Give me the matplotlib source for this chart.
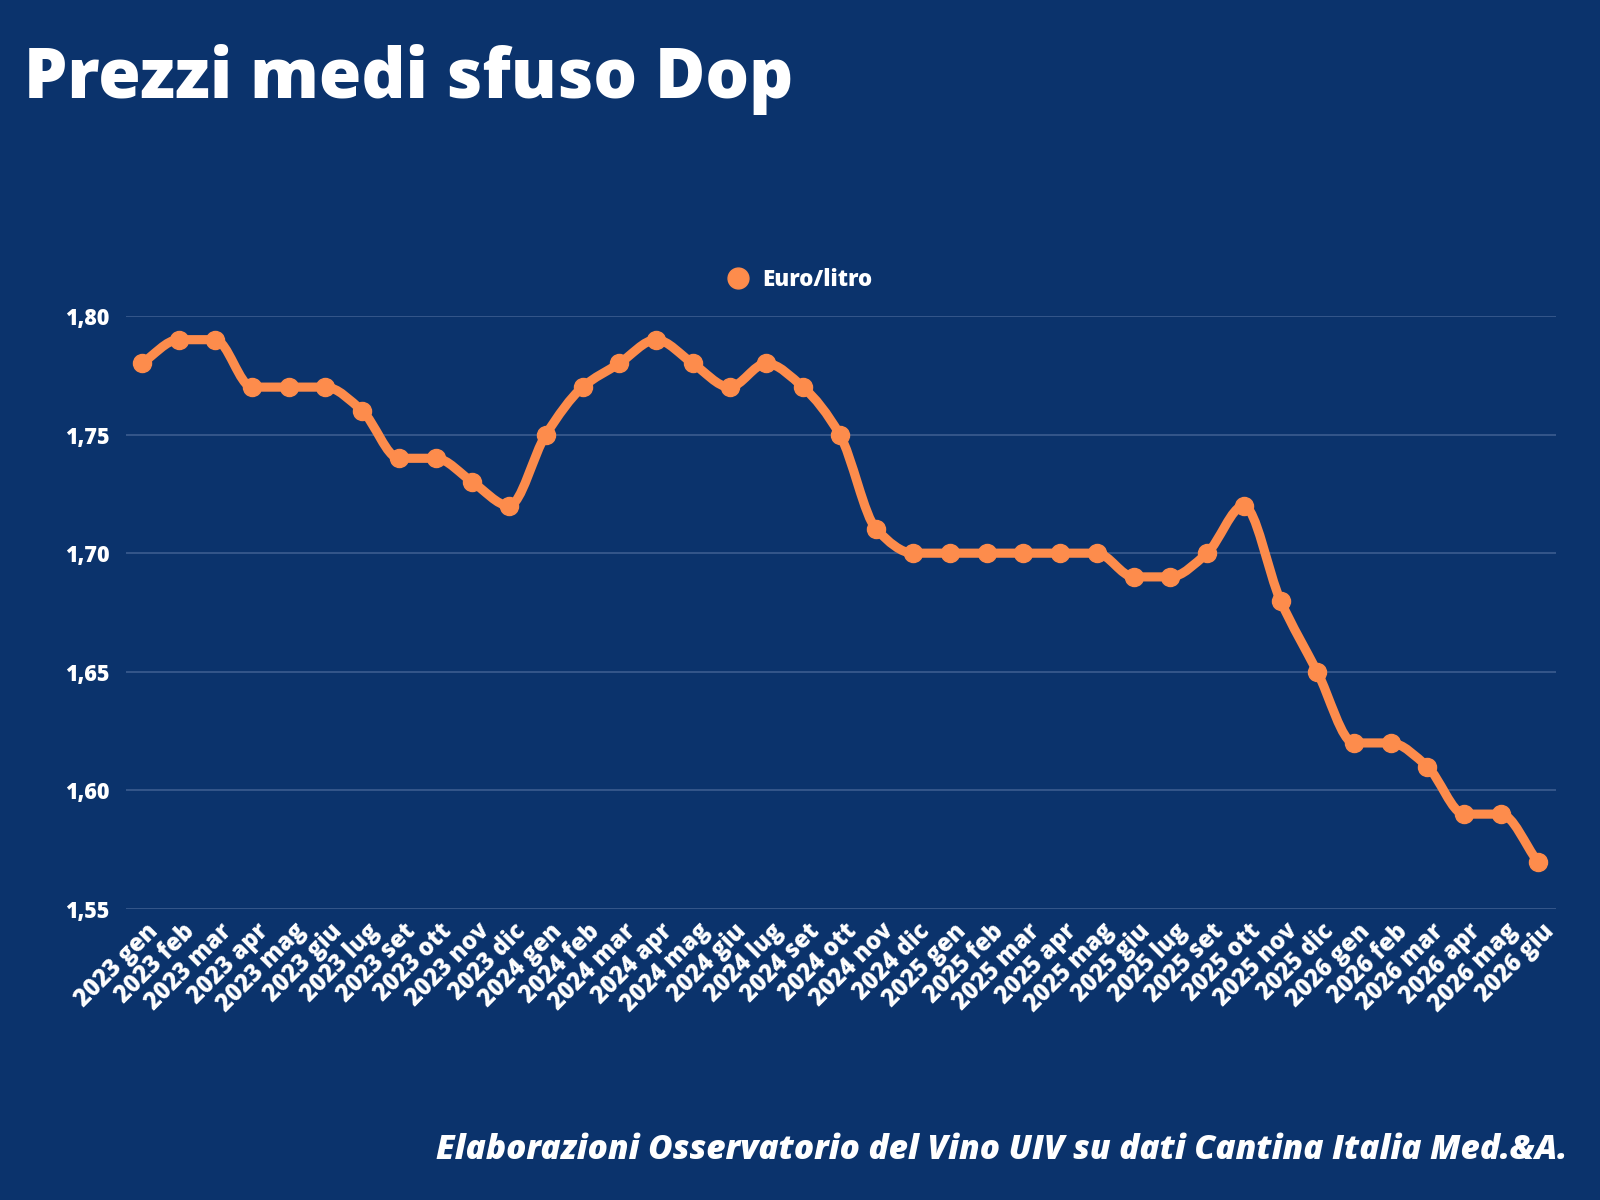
import numpy as np
import matplotlib
matplotlib.use("Agg")
import matplotlib.pyplot as plt
import matplotlib.transforms as mtransforms
from matplotlib.path import Path
from matplotlib.patches import PathPatch
from matplotlib.lines import Line2D

# data
months = ["2023 gen", "2023 feb", "2023 mar", "2023 apr", "2023 mag", "2023 giu",
          "2023 lug", "2023 set", "2023 ott", "2023 nov", "2023 dic",
          "2024 gen", "2024 feb", "2024 mar", "2024 apr", "2024 mag", "2024 giu",
          "2024 lug", "2024 set", "2024 ott", "2024 nov", "2024 dic",
          "2025 gen", "2025 feb", "2025 mar", "2025 apr", "2025 mag", "2025 giu",
          "2025 lug", "2025 set", "2025 ott", "2025 nov", "2025 dic",
          "2026 gen", "2026 feb", "2026 mar", "2026 apr", "2026 mag", "2026 giu"]
prices = [1.78, 1.79, 1.79, 1.77, 1.77, 1.77, 1.76, 1.74, 1.74, 1.73, 1.72,
          1.75, 1.77, 1.78, 1.79, 1.78, 1.77, 1.78, 1.77, 1.75, 1.71, 1.70,
          1.70, 1.70, 1.70, 1.70, 1.70, 1.69, 1.69, 1.70, 1.72, 1.68, 1.65,
          1.62, 1.62, 1.61, 1.59, 1.59, 1.57]
yticks = [1.55, 1.60, 1.65, 1.70, 1.75, 1.80]
ytick_labels = ["1,55", "1,60", "1,65", "1,70", "1,75", "1,80"]
series_name = "Euro/litro"
title = "Prezzi medi sfuso Dop"
source = "Elaborazioni Osservatorio del Vino UIV su dati Cantina Italia Med.&A."

bg = "#0b336c"
orange = "#fd8c4c"
grid_col = "#3c5d90"
font = ["Open Sans", "DejaVu Sans"]
plt.rcParams["font.family"] = font


def smooth_path(x, y):
    # monotone cubic tangents, drawn as bezier segments
    x = np.asarray(x, float)
    y = np.asarray(y, float)
    d = np.diff(y) / np.diff(x)
    m = np.zeros_like(y)
    m[0], m[-1] = d[0], d[-1]
    for k in range(1, len(y) - 1):
        if d[k - 1] * d[k] > 0:
            m[k] = 2 / (1 / d[k - 1] + 1 / d[k])
    verts = [(x[0], y[0])]
    codes = [Path.MOVETO]
    for k in range(len(x) - 1):
        h = x[k + 1] - x[k]
        verts += [(x[k] + h / 3, y[k] + m[k] * h / 3),
                  (x[k + 1] - h / 3, y[k + 1] - m[k + 1] * h / 3),
                  (x[k + 1], y[k + 1])]
        codes += [Path.CURVE4] * 3
    return Path(verts, codes)


fig = plt.figure(figsize=(16, 12), dpi=100, facecolor=bg)
ax = fig.add_axes([0.0790, 0.2425, 0.8935, 0.4942])
ax.set_facecolor(bg)

xs = np.arange(len(months))
ax.add_patch(PathPatch(smooth_path(xs, prices), fill=False, edgecolor=orange,
                       lw=6.6, capstyle="round", joinstyle="round", zorder=3))
ax.plot(xs, prices, "o", color=orange, markersize=13, zorder=4)

ax.set_xlim(-0.42, len(months) - 0.5)
ax.set_ylim(1.55, 1.80)
ax.set_yticks(yticks)
ax.set_yticklabels(ytick_labels)
ax.set_xticks(xs)
ax.set_xticklabels(months, rotation=45, ha="right", rotation_mode="anchor")
ax.tick_params(axis="both", length=0, colors="white", labelsize=15.5)
ax.tick_params(axis="x", labelsize=17, pad=7)
ax.tick_params(axis="y", pad=12)
shift = mtransforms.ScaledTranslation(0.04, 0, fig.dpi_scale_trans)
for lab in ax.get_xticklabels():
    lab.set_transform(lab.get_transform() + shift)
for lab in ax.get_xticklabels() + ax.get_yticklabels():
    lab.set_fontweight("heavy")
ax.grid(axis="y", color=grid_col, lw=1.2, zorder=0)
ax.set_axisbelow(True)
for s in ax.spines.values():
    s.set_visible(False)

handle = Line2D([], [], marker="o", linestyle="none", color=orange, markersize=15)
leg = fig.legend([handle], [series_name], loc="center", bbox_to_anchor=(0.4965, 0.767),
                 frameon=False, handletextpad=0.1, prop={"weight": "heavy", "size": 16})
for t in leg.get_texts():
    t.set_color("white")

fig.text(0.015, 0.934, title, color="white", fontsize=49.5, fontweight="heavy",
         ha="left", va="center")
fig.text(0.980, 0.042, source, color="white", fontsize=24, fontweight="heavy",
         fontstyle="italic", ha="right", va="center")

fig.savefig("out.png", dpi=100, facecolor=bg)
